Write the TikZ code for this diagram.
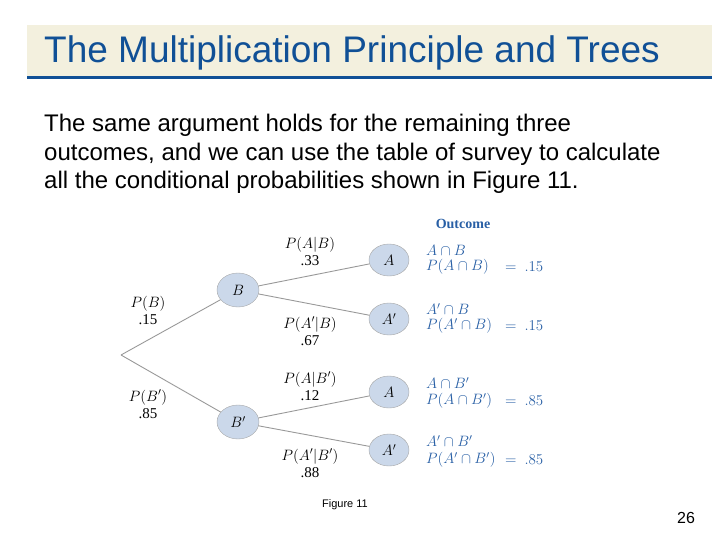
\documentclass[tikz,border=0pt]{standalone}
\usepackage{fix-cm}
\usepackage{fontspec}
\usetikzlibrary{shapes.geometric}
\setmainfont{Liberation Serif}
\newfontfamily\sans{Liberation Sans}
\definecolor{ttl}{RGB}{16,80,150}
\definecolor{band}{RGB}{243,240,222}
\definecolor{nfill}{RGB}{203,216,234}
\definecolor{outc}{RGB}{40,95,165}
\begin{document}
\begin{tikzpicture}[x=1pt,y=-1pt,
  ev/.style={ellipse,draw=gray!70,fill=nfill,minimum width=40pt,minimum height=32pt,inner sep=0pt,font=\fontsize{15}{15}\selectfont\itshape},
  lab/.style={align=center,font=\fontsize{15}{17}\selectfont},
  oc/.style={anchor=west,text=outc,inner sep=0pt,font=\fontsize{15}{17}\selectfont},
  edge/.style={draw=gray!80,line width=0.9pt}]
\useasboundingbox (0,0) rectangle (720,540);
\fill[band] (27,25) rectangle (712,76);
\fill[ttl] (27,76) rectangle (712,79);
\node[anchor=west,text=ttl,font=\sans\fontsize{37}{37}\selectfont,inner sep=0pt] (title) at (44,53) {The Multiplication Principle and Trees};
\node[anchor=north west,align=left,font=\sans\fontsize{24}{28.5}\selectfont,inner sep=0pt] (body) at (44,114) {The same argument holds for the remaining three\\outcomes, and we can use the table of survey to calculate\\all the conditional probabilities shown in Figure 11.};
\coordinate (r) at (121,355);
\node[ev,minimum width=42pt,minimum height=34pt] (B) at (238,290) {$B$};
\node[ev,minimum width=42pt,minimum height=34pt] (Bp) at (238,422) {$B'$};
\node[ev] (A1) at (389,260) {$A$};
\node[ev] (A2) at (389,319) {$A'$};
\node[ev] (A3) at (389,392) {$A$};
\node[ev] (A4) at (389,450) {$A'$};
\draw[edge] (r) -- (B); \draw[edge] (r) -- (Bp);
\draw[edge] (B) -- (A1); \draw[edge] (B) -- (A2);
\draw[edge] (Bp) -- (A3); \draw[edge] (Bp) -- (A4);
\node[lab] (l1) at (148,310) {$P(B)$\\.15};
\node[lab] (l2) at (148,404) {$P(B')$\\.85};
\node[lab] (l3) at (310,251) {$P(A|B)$\\.33};
\node[lab] (l4) at (310,331) {$P(A'|B)$\\.67};
\node[lab] (l5) at (310,386) {$P(A|B')$\\.12};
\node[lab] (l6) at (310,463) {$P(A'|B')$\\.88};
\node[text=outc,font=\fontsize{14}{14}\selectfont\bfseries] (oh) at (463,224) {Outcome};
\node[oc] (o1a) at (426,250) {$A\cap B$};
\node[oc] (o1b) at (426,267) {$P(A\cap B)$};
\node[oc] (o1c) at (505,267) {$=\ .15$};
\node[oc] (o2a) at (426,309) {$A'\cap B$};
\node[oc] (o2b) at (426,326) {$P(A'\cap B)$};
\node[oc] (o2c) at (505,326) {$=\ .15$};
\node[oc] (o3a) at (426,383) {$A\cap B'$};
\node[oc] (o3b) at (426,401) {$P(A\cap B')$};
\node[oc] (o3c) at (505,401) {$=\ .85$};
\node[oc] (o4a) at (426,441) {$A'\cap B'$};
\node[oc] (o4b) at (426,460) {$P(A'\cap B')$};
\node[oc] (o4c) at (505,460) {$=\ .85$};
\node[font=\sans\fontsize{11}{11}\selectfont] (fig) at (345,505) {Figure 11};
\node[font=\sans\fontsize{16}{16}\selectfont] (pg) at (686,518) {26};
\end{tikzpicture}
\end{document}
